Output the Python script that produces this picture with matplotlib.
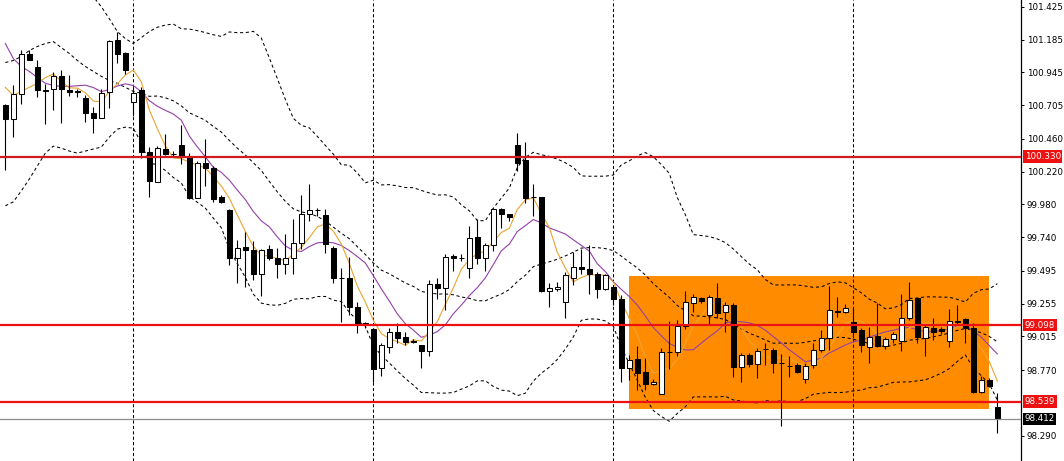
import numpy as np
import pandas as pd
import matplotlib
matplotlib.use("Agg")
import matplotlib.pyplot as plt
from matplotlib.patches import Rectangle
from matplotlib.transforms import blended_transform_factory

nan = np.nan

opens = [
    100.705, 100.603, 100.785, 101.083, 100.988, 100.814, 100.821, 100.916, 100.814, 100.806,
    100.756, 100.646, 100.610, 100.799, 101.185, 101.090, 100.726, 100.814, 100.363, 100.145,
    100.385, 100.348, 100.414, 100.334, 100.028, 100.283, 100.246, 100.035, 99.941, 99.592,
    99.672, 99.650, 99.475, 99.657, 99.592, 99.548, 99.592, 99.701, 99.912, 99.941,
    99.905, 99.665, 99.446, 99.446, 99.228, 99.112, 99.068, 98.785, 98.937, 99.046,
    99.010, 98.981, 98.952, 98.908, 99.395, 99.366, 99.606, 99.592, 99.519, 99.745,
    99.592, 99.686, 99.948, 99.912, 100.414, 100.305, 100.035, 100.035, 99.345, 99.359,
    99.265, 99.446, 99.526, 99.505, 99.468, 99.359, 99.374, 99.286, 98.785, 98.850,
    98.755, 98.668, 98.595, 98.901, 98.901, 99.090, 99.257, 99.294, 99.170, 99.294,
    99.192, 99.243, 98.792, 98.879, 98.814, 98.923, 98.915, 98.821, 98.799, 98.806,
    98.705, 98.806, 98.915, 99.003, 99.199, 99.192, 99.119, 99.061, 98.937, 99.017,
    98.945, 98.995, 98.981, 99.148, 99.294, 99.003, 99.075, 99.068, 98.981, 99.126,
    99.141, 99.075, 98.610, 98.697, 98.501]

highs = [
    100.712, 100.850, 101.105, 101.112, 101.039, 100.857, 100.945, 100.966, 100.923, 100.821,
    100.777, 100.690, 100.821, 101.185, 101.243, 101.097, 100.836, 100.836, 100.399, 100.406,
    100.494, 100.370, 100.559, 100.355, 100.297, 100.457, 100.261, 100.050, 99.948, 99.723,
    99.781, 99.715, 99.657, 99.686, 99.665, 99.766, 99.875, 100.050, 100.130, 99.955,
    99.948, 99.679, 99.519, 99.599, 99.265, 99.119, 99.075, 98.966, 99.075, 99.112,
    99.046, 98.995, 98.952, 99.425, 99.439, 99.621, 99.621, 99.621, 99.825, 99.875,
    99.701, 99.955, 99.955, 99.912, 100.501, 100.436, 100.130, 100.035, 99.403, 99.410,
    99.483, 99.635, 99.657, 99.686, 99.483, 99.475, 99.381, 99.315, 98.879, 98.945,
    98.857, 98.705, 98.930, 99.126, 99.134, 99.345, 99.323, 99.301, 99.315, 99.403,
    99.265, 99.257, 98.894, 98.894, 98.930, 98.966, 98.930, 98.886, 98.872, 98.821,
    98.821, 98.966, 99.061, 99.381, 99.301, 99.250, 99.228, 99.075, 99.083, 99.257,
    99.010, 99.046, 99.323, 99.410, 99.294, 99.097, 99.148, 99.083, 99.214, 99.243,
    99.148, 99.112, 98.726, 98.712, 98.603]

lows = [
    100.232, 100.472, 100.712, 101.032, 100.763, 100.566, 100.668, 100.574, 100.770, 100.763,
    100.581, 100.501, 100.610, 100.683, 101.017, 100.930, 100.625, 100.319, 100.035, 100.145,
    100.341, 100.326, 100.276, 100.021, 100.028, 100.116, 99.999, 99.992, 99.534, 99.403,
    99.374, 99.425, 99.308, 99.577, 99.446, 99.475, 99.475, 99.657, 99.861, 99.897,
    99.628, 99.403, 99.119, 99.170, 99.039, 99.075, 98.683, 98.726, 98.894, 98.966,
    98.952, 98.966, 98.785, 98.872, 99.286, 99.206, 99.497, 99.570, 99.446, 99.548,
    99.497, 99.643, 99.810, 99.861, 100.225, 99.992, 99.897, 99.337, 99.228, 99.345,
    99.148, 99.388, 99.468, 99.323, 99.294, 99.352, 99.243, 98.683, 98.697, 98.625,
    98.625, 98.661, 98.595, 98.777, 98.872, 99.068, 99.192, 99.257, 99.097, 99.148,
    99.046, 98.719, 98.683, 98.792, 98.712, 98.806, 98.748, 98.363, 98.719, 98.748,
    98.675, 98.785, 98.901, 98.915, 99.155, 99.185, 99.003, 98.901, 98.821, 98.937,
    98.923, 98.966, 98.908, 99.134, 98.966, 98.872, 98.988, 99.032, 98.937, 99.097,
    98.966, 98.603, 98.603, 98.646, 98.312]

closes = [
    100.603, 100.785, 101.083, 101.039, 100.814, 100.810, 100.916, 100.821, 100.799, 100.803,
    100.646, 100.610, 100.792, 101.177, 101.083, 100.966, 100.792, 100.363, 100.152, 100.392,
    100.348, 100.345, 100.334, 100.028, 100.283, 100.246, 100.021, 99.995, 99.585, 99.665,
    99.650, 99.475, 99.650, 99.592, 99.548, 99.585, 99.701, 99.912, 99.941, 99.938,
    99.694, 99.439, 99.443, 99.228, 99.112, 99.109, 98.777, 98.952, 99.046, 99.003,
    98.974, 98.978, 98.908, 99.395, 99.366, 99.599, 99.585, 99.589, 99.737, 99.592,
    99.686, 99.948, 99.912, 99.890, 100.283, 100.028, 100.032, 99.345, 99.366, 99.374,
    99.461, 99.526, 99.505, 99.468, 99.359, 99.461, 99.286, 98.785, 98.843, 98.748,
    98.668, 98.683, 98.901, 98.898, 99.090, 99.265, 99.301, 99.272, 99.301, 99.185,
    99.243, 98.792, 98.879, 98.814, 98.908, 98.920, 98.821, 98.818, 98.796, 98.755,
    98.799, 98.915, 99.003, 99.206, 99.196, 99.221, 99.046, 98.952, 99.010, 98.945,
    98.995, 99.032, 99.148, 99.279, 99.010, 99.083, 99.046, 99.054, 99.126, 99.123,
    99.075, 98.610, 98.697, 98.654, 98.412]

ma5_early = [100.836, 100.777, 100.806, 100.836]
ma10_early = [101.156, 101.046, 100.988, 100.952, 100.908, 100.865, 100.850, 100.843, 100.843]
mid_early = [101.017, 101.032, 101.061, 101.105, 101.134, 101.156, 101.170, 101.126, 101.083, 101.032,
             100.988, 100.952, 100.916, 100.886, 100.865, 100.836, 100.806, 100.792, 100.770]
upper_early = [nan] * 11 + [101.497, 101.425, 101.337, 101.243, 101.192, 101.156, 101.199, 101.243]
lower_early = [99.970, 99.999, 100.079, 100.166, 100.261, 100.355, 100.406, 100.392, 100.370, 100.355,
               100.370, 100.385, 100.399, 100.472, 100.530, 100.545, 100.537, 100.428, 100.283]

levels = [100.330, 99.098, 98.539]
level_colors = ["#d01c1c", "#ee1111", "#ee1111"]
last_price = 98.412
box_start, box_end = 78, 123
box_low, box_high = 98.488, 99.455
vgrid = [16, 46, 76, 106]
ytick_vals = [101.425, 101.185, 100.945, 100.705, 100.460, 100.220, 99.980, 99.740,
              99.495, 99.255, 99.015, 98.770, 98.290]

o = np.array(opens); h = np.array(highs); l = np.array(lows); c = np.array(closes)
n = len(c)
x = np.arange(n)
cs = pd.Series(c)

ma5 = cs.rolling(5).mean().to_numpy()
ma5[:len(ma5_early)] = ma5_early
ma10 = cs.rolling(10).mean().to_numpy()
ma10[:len(ma10_early)] = ma10_early
mid = cs.rolling(20).mean().to_numpy()
sd = cs.rolling(20).std(ddof=0).to_numpy()
upper = mid + 2 * sd
lower = mid - 2 * sd
mid[:19] = mid_early
upper[:19] = upper_early
lower[:19] = lower_early

W, H = 1064, 461
fig = plt.figure(figsize=(W / 100, H / 100), dpi=100)
fig.patch.set_facecolor("white")
ax = fig.add_axes([0, 0, 1021 / W, 1])
ax.set_facecolor("white")

x0 = -5.33 / 8
ax.set_xlim(x0, x0 + 1021 / 8)
ax.set_ylim(98.105, 101.474)

# background rectangle
ax.add_patch(Rectangle((box_start, box_low), box_end - box_start, box_high - box_low,
                       facecolor="#ff8c00", edgecolor="none", zorder=0))

# vertical grid
for v in vgrid:
    ax.axvline(v, color="black", lw=0.75, linestyle=(0, (3.0, 2.2)), zorder=1)

# bollinger bands
for band in (upper, mid, lower):
    ax.plot(x, band, color="black", lw=0.75, linestyle=(0, (3.0, 2.6)), zorder=2)

# moving averages
ax.plot(x, ma10, color="#9440a8", lw=0.8, zorder=3)
ax.plot(x, ma5, color="#eaa530", lw=0.8, zorder=3)

# candles
up = c >= o
ax.vlines(x, l, h, color="black", lw=0.8, zorder=4)
bottoms = np.minimum(o, c)
heights = np.maximum(np.abs(c - o), 0.0008)
ax.bar(x, heights, bottom=bottoms, width=0.62,
       color=np.where(up, "white", "black"), edgecolor="black", linewidth=0.75, zorder=5)

# horizontal levels
ax.axhline(last_price, color="#8c8c8c", lw=0.9, zorder=6)
for lv, col in zip(levels, level_colors):
    ax.axhline(lv, color=col, lw=1.6, zorder=7)

# right axis
for s in ("top", "left", "bottom"):
    ax.spines[s].set_visible(False)
ax.spines["right"].set_color("black")
ax.spines["right"].set_linewidth(0.9)
ax.set_xticks([])
ax.yaxis.tick_right()
ax.set_yticks(ytick_vals)
ax.set_yticklabels([f"{v:.3f}" for v in ytick_vals])
ax.tick_params(axis="y", direction="out", length=2.5, width=0.7, pad=1.8,
               labelsize=6.3, colors="black")

tr = blended_transform_factory(ax.transAxes, ax.transData)
for lv, col in zip(levels, level_colors):
    ax.text(1.0035, lv, f"{lv:.3f}", transform=tr, ha="left", va="center",
            fontsize=6.3, color="white", clip_on=False, zorder=10,
            bbox=dict(facecolor="#ee1111", edgecolor="none", pad=1.2))
ax.text(1.0035, last_price, f"{last_price:.3f}", transform=tr, ha="left", va="center",
        fontsize=6.3, color="white", clip_on=False, zorder=10,
        bbox=dict(facecolor="black", edgecolor="none", pad=1.2))

fig.savefig("out.png", dpi=100, facecolor="white")
